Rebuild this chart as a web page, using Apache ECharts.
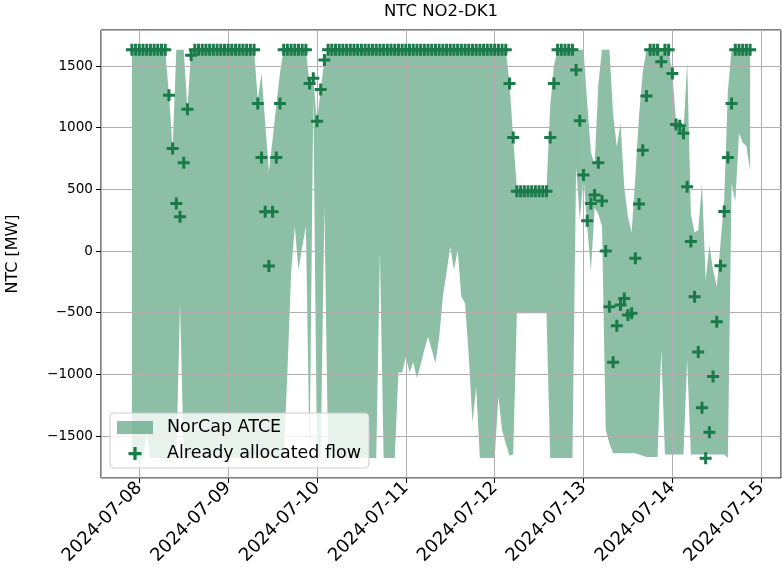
<!DOCTYPE html>
<html>
<head>
<meta charset="utf-8">
<script src="https://cdn.jsdelivr.net/npm/echarts@6/dist/echarts.min.js"></script>
<style>
  html, body { margin: 0; padding: 0; background: #fff; }
  #chart { width: 782px; height: 576px; }
</style>
</head>
<body>
<div id="chart"></div>
<script>
// hours are counted from 2024-07-08 00:00, one sample per hour
const firstHour = -2; // 2024-07-07 22:00
const dayLabels = ["2024-07-08", "2024-07-09", "2024-07-10", "2024-07-11",
  "2024-07-12", "2024-07-13", "2024-07-14", "2024-07-15"];
const yTicks = [-1500, -1000, -500, 0, 500, 1000, 1500];

// NorCap ATCE upper bound (MW)
const atceUpper = [
  1632, 1632, 1632, 1632, 1632, 1632, 1632, 1632, 1632, 1632,
  1264, 835, 1632, 1632, 1632, 1150, 1632, 1632, 1632, 1632,
  1632, 1632, 1632, 1632, 1632, 1632, 1632, 1632, 1632, 1632,
  1632, 1632, 1632, 1632, 1224, 1442, 1045, 643, 902, 1183,
  1442, 1632, 1632, 1632, 1632, 1632, 1632, 1632, 1359, 1400,
  1053, 1310, 1548, 1632, 1632, 1632, 1632, 1632, 1632, 1632,
  1632, 1632, 1632, 1632, 1632, 1632, 1632, 1632, 1632, 1632,
  1632, 1632, 1632, 1632, 1632, 1632, 1632, 1632, 1632, 1632,
  1632, 1632, 1632, 1632, 1632, 1632, 1632, 1632, 1632, 1632,
  1632, 1632, 1632, 1632, 1632, 1632, 1632, 1632, 1632, 1632,
  1632, 1632, 1359, 921, 505, 505, 505, 505, 505, 505,
  505, 505, 505, 1170, 1500, 1632, 1632, 1632, 1632, 1632,
  1632, 1632, 1632, 1200, 800, 700, 1350, 1632, 1632, 1632,
  1100, 845, 1035, 520, 278, 150, 600, 1100, 1450, 1632,
  1632, 1632, 1632, 1632, 1632, 1632, 1440, 1040, 1020, 960,
  1534, 300, 150, 170, 548, -235, 49, -154, -289, 60,
  413, 1300, 1632, 1632, 1632, 1632, 1632, 1632
];

// NorCap ATCE lower bound (MW)
const atceLower = [
  -1677, -1677, -1677, -1677, -1478, -1677, -1677, -1677, -1677, -1677,
  -1677, -1677, -1677, -424, -1677, -1677, -1677, -1677, -1677, -1677,
  -1677, -1677, -1677, -1677, -1677, -1677, -1677, -1677, -1677, -1677,
  -1677, -1677, -1677, -1677, -1677, -1677, -1677, -1677, -1677, -1677,
  -1677, -1677, -989, -180, 197, -154, 35, 197, -1677, 1250,
  -1677, -1677, 359, -1677, -1677, -1677, -1677, -1677, -1677, -1677,
  -1677, -1677, -1677, -1677, -1677, -1677, -1677, -10, -1677, -1677,
  -1677, -1677, -985, -985, -856, -985, -901, -1032, -920, -800,
  -694, -800, -909, -700, -370, -170, 35, -154, 8, -370,
  -424, -850, -1390, -1105, -1677, -1677, -1677, -1677, -1677, -1180,
  -1450, -1560, -1660, -1650, -505, -505, -505, -505, -505, -505,
  -505, -505, -505, -1677, -1677, -1677, -1677, -1677, -1677, -1677,
  683, 250, 600, 200, -160, 350, 300, 200, -1450, -1560,
  -1640, -1640, -1640, -1640, -1640, -1640, -1640, -1650, -1660, -1670,
  -1670, -1670, -1670, -802, -1650, -1650, -1650, -1650, -1650, -1650,
  -883, -1650, -1650, -1650, -1650, -1650, -1650, -1650, -1650, -1650,
  -1650, -1677, 550, 400, 955, 880, 850, 650
];

// already allocated flow (MW)
const allocatedFlow = [
  1632, 1632, 1632, 1632, 1632, 1632, 1632, 1632, 1632, 1632,
  1264, 832, 386, 278, 716, 1150, 1588, 1632, 1632, 1632,
  1632, 1632, 1632, 1632, 1632, 1632, 1632, 1632, 1632, 1632,
  1632, 1632, 1632, 1632, 1197, 759, 318, -122, 318, 759,
  1197, 1632, 1632, 1632, 1632, 1632, 1632, 1632, 1359, 1400,
  1053, 1310, 1548, 1632, 1632, 1632, 1632, 1632, 1632, 1632,
  1632, 1632, 1632, 1632, 1632, 1632, 1632, 1632, 1632, 1632,
  1632, 1632, 1632, 1632, 1632, 1632, 1632, 1632, 1632, 1632,
  1632, 1632, 1632, 1632, 1632, 1632, 1632, 1632, 1632, 1632,
  1632, 1632, 1632, 1632, 1632, 1632, 1632, 1632, 1632, 1632,
  1632, 1632, 1359, 921, 485, 485, 485, 485, 485, 485,
  485, 485, 485, 921, 1359, 1632, 1632, 1632, 1632, 1632,
  1467, 1056, 616, 246, 386, 454, 716, 405, 0, -451,
  -902, -605, -438, -384, -519, -505, -59, 381, 818, 1256,
  1632, 1632, 1632, 1534, 1632, 1632, 1440, 1025, 1015, 954,
  521, 78, -370, -818, -1270, -1680, -1469, -1018, -573, -120,
  320, 759, 1197, 1632, 1632, 1632, 1632, 1632
];

const hours = atceUpper.map((_, i) => firstHour + i);

const FONT = "DejaVu Sans";
const MARK = "#1a7a4a";
const FILL = "rgba(27,127,79,0.5)";
const GRID = "#b0b0b0";
const PLUS = "path://M4.5,0H7.5V4.5H12V7.5H7.5V12H4.5V7.5H0V4.5H4.5Z";

const chart = echarts.init(document.getElementById("chart"), null, { renderer: "canvas" });

chart.setOption({
  animation: false,
  backgroundColor: "#fff",
  title: {
    text: "NTC NO2-DK1",
    left: 441,
    top: 3,
    textAlign: "center",
    padding: 0,
    textStyle: { fontFamily: FONT, fontSize: 16.5, fontWeight: "normal", color: "#000" },
  },
  grid: {
    left: 101, right: 1, top: 30, bottom: 98,
    outerBoundsMode: "none",
    show: true, borderColor: "#000", borderWidth: 1,
  },
  legend: {
    data: [
      { name: "NorCap ATCE", icon: "rect" },
      { name: "Already allocated flow", icon: PLUS },
    ],
    orient: "vertical",
    left: 110,
    top: 413,
    z: 10,
    itemWidth: 36,
    itemHeight: 13,
    itemGap: 5,
    selectedMode: false,
    backgroundColor: "rgba(255,255,255,0.8)",
    borderColor: "#cccccc",
    borderWidth: 1,
    borderRadius: 4,
    padding: [4, 8, 4, 7],
    textStyle: { fontFamily: FONT, fontSize: 17.5, lineHeight: 21, color: "#000", padding: [0, 0, 0, 9] },
  },
  xAxis: {
    type: "value",
    z: 2,
    min: -10.35,
    max: 173.35,
    minInterval: 24,
    maxInterval: 24,
    axisLine: { show: false, onZero: false },
    axisTick: { show: true, length: 5, lineStyle: { color: "#000" } },
    splitLine: { show: true, lineStyle: { color: GRID, width: 1 } },
    axisLabel: {
      rotate: 45,
      margin: 7,
      showMinLabel: false,
      showMaxLabel: false,
      fontFamily: FONT,
      fontSize: 18,
      color: "#000",
      formatter: (v) => dayLabels[Math.round(v / 24)] || "",
    },
  },
  yAxis: {
    type: "value",
    z: 2,
    min: -1840,
    max: 1792,
    minInterval: 500,
    maxInterval: 500,
    name: "NTC [MW]",
    nameLocation: "middle",
    nameGap: 80,
    nameTextStyle: { fontFamily: FONT, fontSize: 16, color: "#000" },
    axisLine: { show: false, onZero: false },
    axisTick: { show: true, length: 5, lineStyle: { color: "#000" } },
    splitLine: { show: true, lineStyle: { color: GRID, width: 1 } },
    axisLabel: {
      margin: 8,
      showMinLabel: false,
      showMaxLabel: false,
      fontFamily: FONT,
      fontSize: 13.6,
      color: "#000",
      formatter: (v) => (yTicks.includes(v) ? String(v).replace("-", "\u2212") : ""),
    },
  },
  series: [
    {
      name: "NorCap ATCE",
      type: "custom",
      data: hours.map((h, i) => [h, atceLower[i], atceUpper[i]]),
      encode: { x: 0, y: [1, 2] },
      itemStyle: { color: FILL },
      silent: true,
      z: 1,
      renderItem: (params, api) => {
        // one polygon: along the upper bound, back along the lower bound
        if (params.dataIndexInside !== 0) return null;
        const n = params.dataInsideLength;
        const top = [];
        const bottom = [];
        for (let j = 0; j < n; j++) {
          top.push(api.coord([api.value(0, j), api.value(2, j)]));
          bottom.push(api.coord([api.value(0, j), api.value(1, j)]));
        }
        return {
          type: "polygon",
          shape: { points: top.concat(bottom.reverse()) },
          style: { fill: FILL },
        };
      },
    },
    {
      name: "Already allocated flow",
      type: "scatter",
      data: allocatedFlow.map((v, i) => [hours[i], v]),
      symbol: PLUS,
      symbolSize: 12,
      itemStyle: { color: MARK, opacity: 1 },
      z: 3,
    },
  ],
});
</script>
</body>
</html>
